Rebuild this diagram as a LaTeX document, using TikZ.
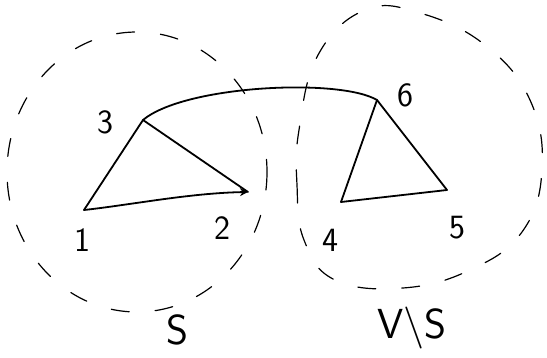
\documentclass[tikz,border=0pt]{standalone}
\usetikzlibrary{arrows.meta}
\begin{document}
\begin{tikzpicture}[x=1pt,y=-1pt,
  edge/.style={line width=1.8pt,line cap=round},
  region/.style={line width=1.2pt,dash pattern=on 18pt off 26pt,line cap=round},
  lab/.style={font=\sffamily\fontsize{34}{34}\selectfont,inner sep=0pt},
  setlab/.style={font=\sffamily\fontsize{42}{42}\selectfont,inner sep=0pt}]
\useasboundingbox (0,0) rectangle (547,358);
% regions
\draw[region] (137,172) ellipse [x radius=130, y radius=140];
\draw[region] plot[smooth cycle,tension=0.7] coordinates {(299,130) (297,185) (304,240) (335,280) (403,288) (470,270) (522,232) (542,170) (530,100) (485,45) (420,13) (365,10) (318,55)};
% vertices
\coordinate (v1) at (84,210);
\coordinate (v2) at (248,192);
\coordinate (v3) at (143,120);
\coordinate (v4) at (341,202);
\coordinate (v5) at (447,190);
\coordinate (v6) at (377,100);
% edges
\draw[edge] (v1) -- (v3);
\draw[edge] (v3) -- (v2);
\draw[edge,-{Stealth[length=8pt,width=8pt]}] (v1) .. controls (130,205) and (190,193) .. (v2);
\draw[edge] (v3) .. controls (185,85) and (340,78) .. (v6);
\draw[edge] (v6) -- (v4);
\draw[edge] (v6) -- (v5);
\draw[edge] (v4) -- (v5);
% labels
\node[lab] (l1) at (82,240) {1};
\node[lab] (l2) at (222,228) {2};
\node[lab] (l3) at (105,122) {3};
\node[lab] (l4) at (330,240) {4};
\node[lab] (l5) at (457,228) {5};
\node[lab] (l6) at (405,95) {6};
\node[setlab] (ls) at (177,330) {S};
\node[setlab] (lvs) at (412,328) {V\textbackslash S};
\end{tikzpicture}
\end{document}
